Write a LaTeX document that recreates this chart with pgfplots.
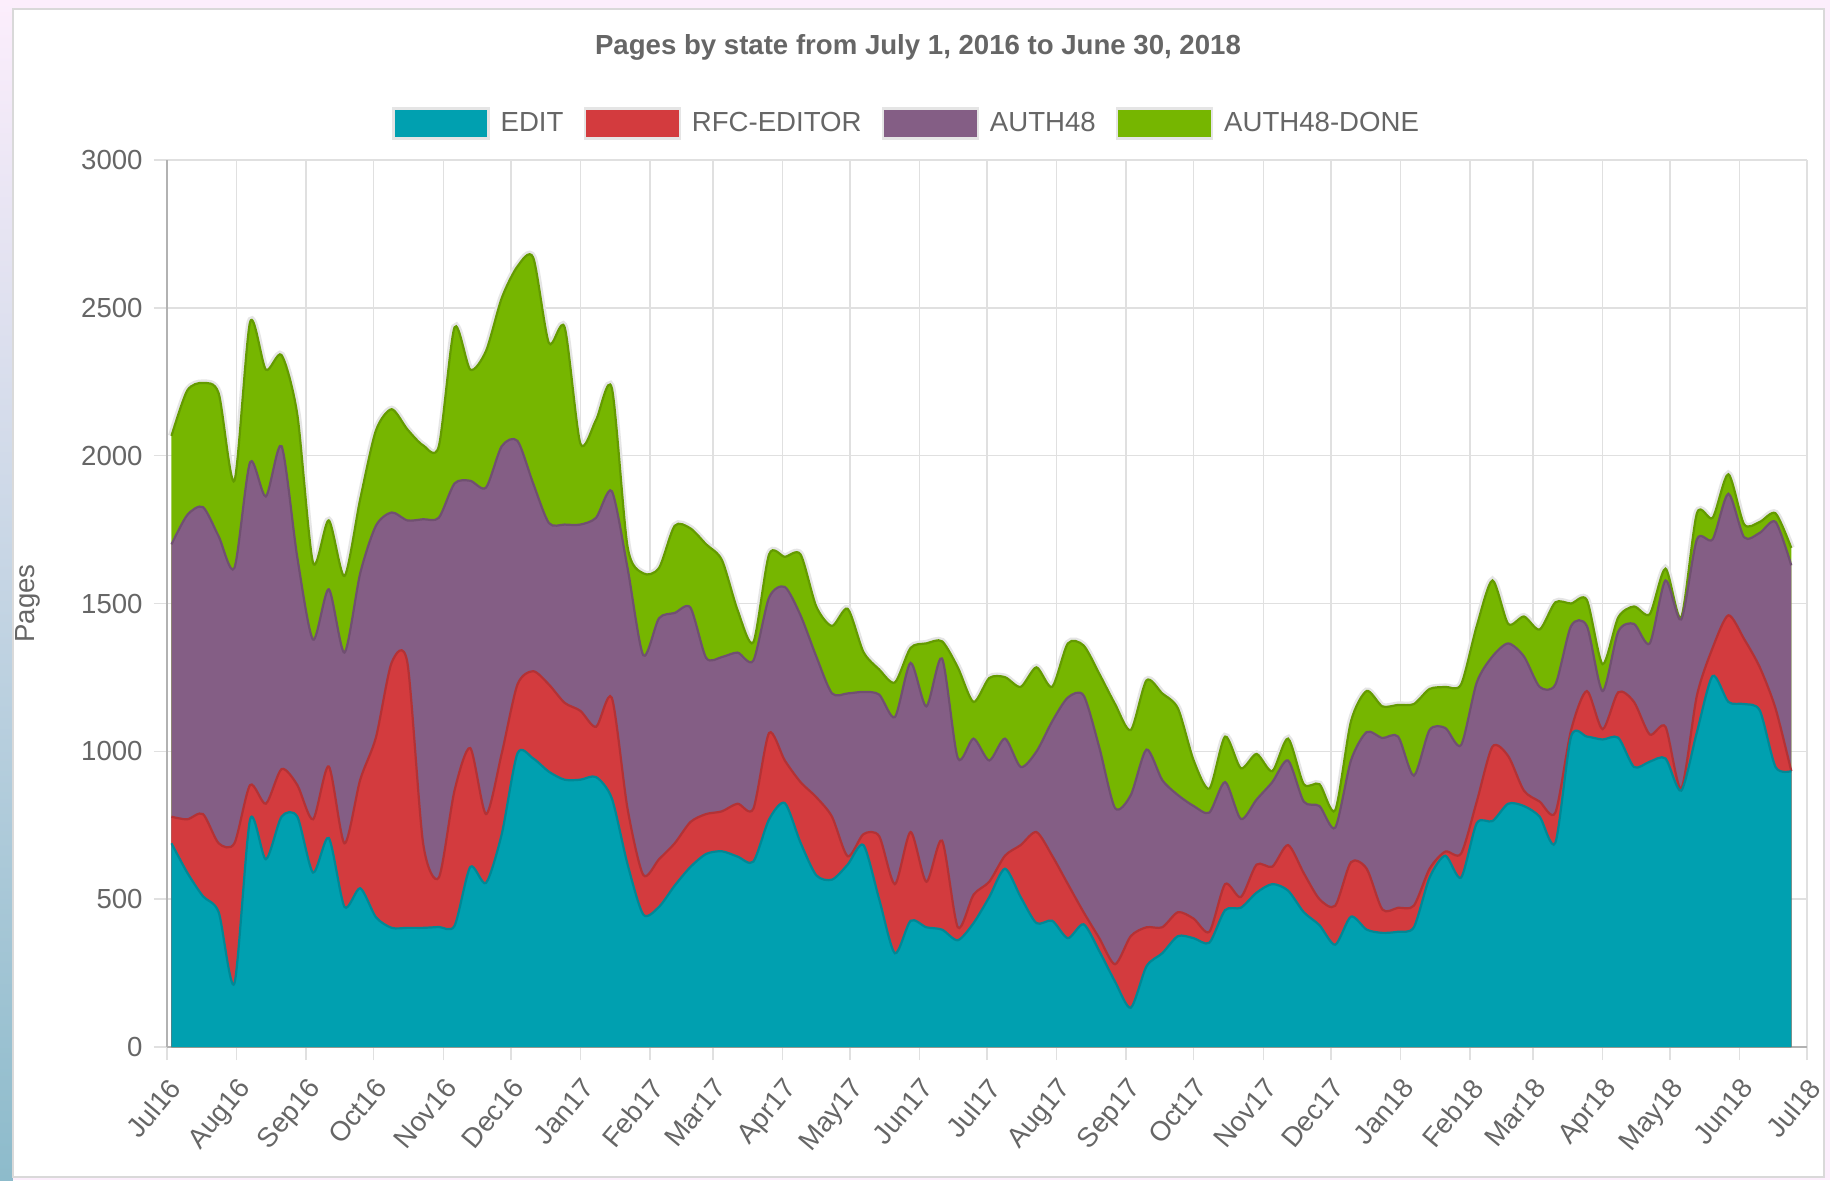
\documentclass[border=0pt]{standalone}
\usepackage{fontspec}
\setmainfont{Liberation Sans}
\usepackage{pgfplots}
\pgfplotsset{compat=1.18}
\usepackage{pgfplotstable}
\definecolor{editc}{HTML}{00A0B0}
\definecolor{rfcc}{HTML}{D33B3E}
\definecolor{authc}{HTML}{845E85}
\definecolor{donec}{HTML}{76B600}
\definecolor{txt}{HTML}{666666}
\definecolor{gridc}{HTML}{E0E0E0}
\definecolor{bgpink}{HTML}{FCEEFC}
\definecolor{stripb}{HTML}{8DBBCB}
\newcommand\lbl{\fontsize{13.8}{16}\selectfont}

% cumulative tops of the stacked areas (pages), weekly from 3 Jul 2016
\pgfplotstableread{
day edit rfc auth done
2 689 779 1700 2067
9 590 770 1799 2220
16 510 788 1826 2246
23 456 689 1727 2211
30 215 689 1620 1915
37 770 886 1978 2452
44 635 823 1862 2291
51 779 940 2032 2340
58 779 886 1656 2139
65 590 770 1378 1638
72 707 949 1548 1781
79 474 689 1334 1593
86 537 904 1602 1853
93 439 1047 1763 2085
100 403 1300 1808 2157
107 403 1300 1781 2089
114 403 689 1785 2035
121 406 573 1790 2032
128 410 868 1906 2434
135 609 1011 1915 2291
142 555 788 1892 2354
149 720 993 2032 2533
156 993 1226 2050 2640
163 976 1271 1906 2670
170 931 1226 1772 2381
177 904 1164 1767 2434
184 904 1137 1767 2041
191 913 1083 1790 2121
198 841 1181 1880 2229
205 618 806 1620 1692
212 448 582 1325 1602
219 474 635 1450 1620
226 546 689 1468 1763
233 609 761 1486 1754
240 653 788 1316 1700
247 662 797 1319 1647
254 644 823 1334 1477
261 627 806 1307 1369
268 770 1062 1520 1666
275 825 969 1556 1658
282 691 896 1460 1666
289 581 845 1321 1490
296 566 779 1196 1424
303 617 645 1196 1482
310 683 720 1201 1336
317 500 713 1192 1277
324 317 551 1116 1233
331 427 727 1299 1350
338 405 559 1152 1365
345 397 698 1314 1372
352 361 405 977 1284
359 419 515 1043 1167
366 507 559 969 1248
373 603 647 1043 1251
380 507 683 947 1218
387 419 727 999 1284
394 427 647 1101 1218
401 368 551 1182 1365
408 415 456 1189 1358
415 324 368 1013 1262
422 221 280 808 1160
429 133 375 852 1072
436 273 405 1006 1240
443 317 405 903 1196
450 375 456 852 1145
457 368 434 815 969
464 353 390 793 874
471 463 551 896 1050
478 471 507 771 943
485 522 617 837 991
492 551 610 896 933
499 529 683 969 1043
506 456 588 830 889
513 412 500 815 889
520 346 478 742 801
527 441 625 969 1101
534 397 603 1065 1204
541 386 465 1045 1152
548 390 471 1050 1157
555 405 478 918 1160
562 573 603 1072 1211
569 647 661 1079 1218
576 573 654 1021 1226
583 757 830 1233 1424
590 764 1016 1321 1578
597 823 984 1365 1431
604 815 867 1321 1456
611 779 830 1218 1412
618 691 793 1226 1504
625 1050 1072 1424 1500
632 1050 1204 1424 1512
639 1040 1075 1204 1295
646 1046 1200 1405 1453
653 947 1167 1431 1490
660 965 1057 1365 1464
667 976 1083 1578 1618
674 867 874 1446 1453
681 1065 1189 1717 1805
688 1255 1350 1717 1790
695 1167 1460 1871 1937
702 1160 1380 1724 1768
709 1138 1284 1739 1776
716 947 1145 1776 1805
723 933 933 1629 1688
}\pages

\begin{document}
\begin{tikzpicture}
% page background and chart box
\fill[bgpink] (-83.5pt,-66.5pt) rectangle (831.5pt,523.5pt);
\shade[top color=bgpink, bottom color=stripb] (-83.5pt,-66.5pt) rectangle (-77pt,523.5pt);
\filldraw[fill=white, draw=black!15, line width=1pt] (-77pt,-65pt) rectangle (828.5pt,519pt);
\begin{axis}[
  at={(0pt,0pt)}, anchor=south west,
  scale only axis, width=820pt, height=443.5pt,
  xmin=0, xmax=730, ymin=0, ymax=3000,
  axis lines=left, axis line style={-, black!30, line width=1pt},
  grid=major, grid style={gridc, line width=0.8pt},
  tick align=outside, major tick length=6.5pt,
  tick style={gridc, line width=0.8pt},
  xtick={0,31,62,92,123,153,184,215,243,274,304,335,365,396,427,457,488,518,549,580,608,639,669,700,730},
  xticklabels={Jul16,Aug16,Sep16,Oct16,Nov16,Dec16,Jan17,Feb17,Mar17,Apr17,May17,Jun17,Jul17,Aug17,Sep17,Oct17,Nov17,Dec17,Jan18,Feb18,Mar18,Apr18,May18,Jun18,Jul18},
  ytick={0,500,...,3000},
  /pgf/number format/1000 sep={},
  /pgf/number format/assume math mode=true,
  ticklabel style={font=\lbl, text=txt},
  xticklabel style={rotate=50, anchor=north east, inner sep=0pt},
  yticklabel style={anchor=east, inner sep=0pt},
  xticklabel shift=8pt,
  yticklabel shift=5.5pt,
  legend style={draw=none, fill=none, at={(rel axis cs:0.4516,1.041)}, anchor=center,
    legend columns=4, font=\lbl, text=txt,
    /tikz/every odd column/.append style={column sep=3.5pt},
    /tikz/every even column/.append style={column sep=8pt}},
  legend image code/.code={\filldraw[#1, draw=black!10, line width=1.2pt] (0pt,-7.5pt) rectangle (47.5pt,7.5pt);},
]
\addlegendimage{fill=editc}
\addlegendentry{EDIT}
\addlegendimage{fill=rfcc}
\addlegendentry{RFC-EDITOR}
\addlegendimage{fill=authc}
\addlegendentry{AUTH48}
\addlegendimage{fill=donec}
\addlegendentry{AUTH48-DONE}

% halo along the total
\addplot[draw=black!10, line width=3.5pt, smooth, tension=0.45, forget plot] table[x=day, y=done] {\pages};
% AUTH48-DONE (top of stack)
\addplot[fill=donec, draw=none, smooth, tension=0.45, forget plot] table[x=day, y=done] {\pages} \closedcycle;
\addplot[draw=donec!85!black, line width=1.1pt, smooth, tension=0.45, forget plot] table[x=day, y=done] {\pages};
% AUTH48
\addplot[fill=authc, draw=none, smooth, tension=0.45, forget plot] table[x=day, y=auth] {\pages} \closedcycle;
\addplot[draw=authc!85!black, line width=1.1pt, smooth, tension=0.45, forget plot] table[x=day, y=auth] {\pages};
% RFC-EDITOR
\addplot[fill=rfcc, draw=none, smooth, tension=0.45, forget plot] table[x=day, y=rfc] {\pages} \closedcycle;
\addplot[draw=rfcc!85!black, line width=1.1pt, smooth, tension=0.45, forget plot] table[x=day, y=rfc] {\pages};
% EDIT
\addplot[fill=editc, draw=none, smooth, tension=0.45, forget plot] table[x=day, y=edit] {\pages} \closedcycle;
\addplot[draw=editc!85!black, line width=1.1pt, smooth, tension=0.45, forget plot] table[x=day, y=edit] {\pages};
\end{axis}
\node[font=\bfseries\lbl, text=txt] at (375.5pt,500pt) {Pages by state from July 1, 2016 to June 30, 2018};
\node[rotate=90, font=\lbl, text=txt] at (-69.5pt,221.75pt) {Pages};
\pgfresetboundingbox
\useasboundingbox (-83.5pt,-66.5pt) rectangle (831.5pt,523.5pt);
\end{tikzpicture}
\end{document}
